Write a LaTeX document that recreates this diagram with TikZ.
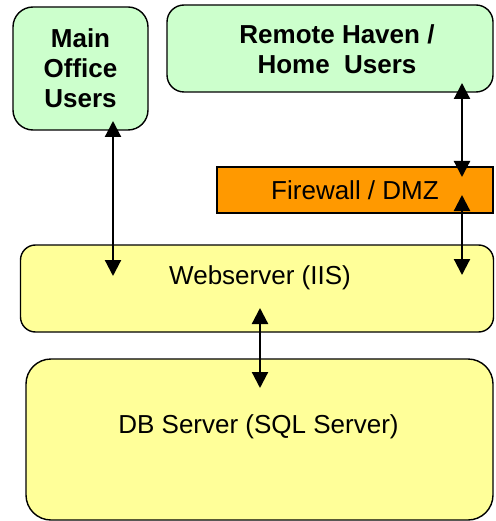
\documentclass[tikz,border=0pt]{standalone}
\usepackage{fontspec}
\setmainfont{Liberation Sans}
\usetikzlibrary{arrows.meta,calc}
\definecolor{usergreen}{HTML}{CCFFCC}
\definecolor{srvyellow}{HTML}{FFFF99}
\definecolor{fworange}{HTML}{FF9900}
\tikzset{
  box/.style={draw=black, line width=1.4pt, inner sep=0pt, outer sep=0pt},
  userbox/.style={box, fill=usergreen, font=\fontsize{26}{30}\selectfont\bfseries, align=center},
  srvbox/.style={box, fill=srvyellow},
  srvtext/.style={font=\fontsize{26}{30}\selectfont},
  link/.style={line width=2.2pt, {Triangle[length=16pt 0,width=16pt 0]}-{Triangle[length=16pt 0,width=16pt 0]}}
}
\begin{document}
\begin{tikzpicture}[x=1pt,y=-1pt]
\useasboundingbox (0,0) rectangle (495,521);
\node[userbox, rounded corners=20pt, minimum width=135pt, minimum height=123pt] (main) at (80.5,68.5) {Main\\Office\\Users};
\node[box, fill=usergreen, rounded corners=17pt, minimum width=326pt, minimum height=87pt,
  label={[font=\fontsize{26}{30}\selectfont\bfseries, align=center, xshift=7pt, yshift=-1pt]center:Remote Haven /\\Home\ \ Users}] (remote) at (330,48.5) {};
\node[box, fill=fworange, minimum width=276pt, minimum height=46pt, srvtext] (fw) at (355,190) {Firewall / DMZ};
\node[srvbox, rounded corners=15pt, minimum width=473pt, minimum height=87pt,
  label={[srvtext, xshift=3pt, yshift=10.3pt]center:Webserver (IIS)}] (web) at (257,288.5) {};
\node[srvbox, rounded corners=25pt, minimum width=467pt, minimum height=161pt,
  label={[srvtext, xshift=-1pt, yshift=13pt]center:DB Server (SQL Server)}] (db) at (259.5,439.5) {};
\draw[link] ($(main.south)+(32.5,-9)$) -- ($(web.north)+(-144,31)$);
\draw[link] ($(remote.south)+(132,-9)$) -- ($(fw.north)+(107,10)$);
\draw[link] ($(fw.south)+(107,-18)$) -- ($(web.north)+(205,30)$);
\draw[link] ($(web.south)+(3,-24)$) -- ($(db.north)+(0.5,29)$);
\end{tikzpicture}
\end{document}
